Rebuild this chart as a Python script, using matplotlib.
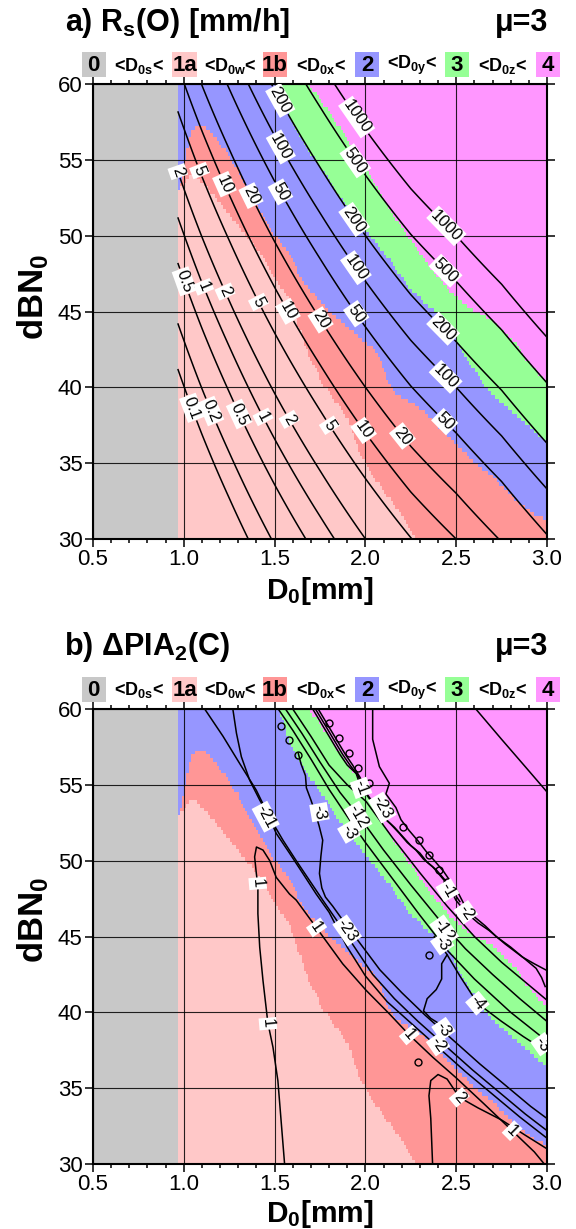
import numpy as np
import matplotlib
matplotlib.use("Agg")
import matplotlib.pyplot as plt
from matplotlib.colors import ListedColormap, BoundaryNorm
from matplotlib.path import Path
from matplotlib.patches import Rectangle
from matplotlib.ticker import MultipleLocator

plt.rcParams["font.family"] = ["Liberation Sans", "DejaVu Sans"]
plt.rcParams["mathtext.fontset"] = "custom"
plt.rcParams["mathtext.rm"] = "Liberation Sans"
plt.rcParams["mathtext.bf"] = "Liberation Sans:bold"
plt.rcParams["mathtext.it"] = "Liberation Sans:italic"
plt.rcParams["mathtext.sf"] = "Liberation Sans"

W, H = 576, 1229

# ---------------- DATA ----------------
class_labels = ["0", "1a", "1b", "2", "3", "4"]
class_colors = ["#c8c8c8", "#ffc8c8", "#ff9696", "#9696ff", "#96ff96", "#ff96ff"]
threshold_subs = ["0s", "0w", "0x", "0y", "0z"]

x_ticks = [0.5, 1.0, 1.5, 2.0, 2.5, 3.0]
y_ticks = [30, 35, 40, 45, 50, 55, 60]

D0s = 0.967

# outline of classes 1a+1b together (D0 [mm], dBN0)
cls1_D = [0.95, 0.95, 0.974, 0.988, 1.015, 1.042, 1.075, 1.10, 1.12, 1.216, 1.29, 1.363,
          1.436, 1.50, 1.582, 1.656, 1.75, 1.875, 1.97, 2.06, 2.132, 2.17, 2.315, 2.48,
          2.571, 2.718, 2.828, 2.938, 3.02, 3.02]
cls1_N = [29.9, 52.7, 52.7, 53.6, 55.4, 56.9, 57.3, 57.35, 57.2, 55.8, 54.5, 52.96,
          51.4, 50.1, 48.8, 47.0, 45.7, 44.2, 43.3, 42.4, 40.25, 39.6, 38.5, 36.5,
          35.4, 33.9, 32.6, 31.5, 31.2, 29.9]
# outline of class 1a
cls1a_D = [0.95, 0.95, 1.0, 1.04, 1.07, 1.10, 1.143, 1.216, 1.29, 1.363, 1.436, 1.51,
           1.582, 1.62, 1.656, 1.70, 1.766, 1.84, 1.912, 1.967, 2.022, 2.113, 2.205,
           2.28, 2.29]
cls1a_N = [29.9, 52.5, 53.4, 54.0, 54.0, 53.5, 52.96, 51.9, 50.8, 49.7, 48.6, 47.04,
           45.8, 44.5, 43.2, 41.8, 40.25, 39.0, 37.8, 35.6, 34.5, 33.0, 31.5, 30.0, 29.9]
# boundary D0y (class 2 / class 3)
D0y_N = [30.0, 36.5, 38.5, 40.0, 42.65, 44.0, 44.8, 45.7, 46.6, 48.4, 50.3, 52.3, 54.3,
         55.8, 57.8, 60.0]
D0y_D = [3.40, 2.99, 2.791, 2.663, 2.516, 2.47, 2.407, 2.315, 2.242, 2.132, 2.004,
         1.875, 1.765, 1.674, 1.582, 1.525]
# boundary D0z (class 3 / class 4)
D0z_N = [30.0, 40.4, 41.3, 42.9, 44.4, 45.4, 46.4, 47.7, 49.2, 50.8, 52.1, 53.6, 55.2,
         56.5, 57.8, 59.1, 60.0]
D0z_D = [3.60, 3.0, 2.919, 2.828, 2.70, 2.55, 2.462, 2.37, 2.278, 2.187, 2.113, 2.04,
         1.967, 1.894, 1.82, 1.747, 1.69]

# panel a: dBN0 at which Rs = 1 mm/h, read along D0
rain_knot_D = [0.95, 1.0, 1.1, 1.25, 1.5, 1.75, 2.0, 2.25, 2.5, 2.75, 3.0]
rain_knot_dBN1 = [51.8, 50.1, 46.9, 42.7, 36.6, 31.5, 27.0, 23.1, 20.0, 16.8, 13.3]
rain_levels = [0.1, 0.2, 0.5, 1, 2, 5, 10, 20, 50, 100, 200, 500, 1000]
rain_label_D = [1.527, 1.949, 1.527, 1.94, 0.985, 1.088, 1.225, 1.363, 1.527, 1.930,
                2.434, 1.949, 2.434, 1.005, 1.104, 1.225, 1.407, 1.564, 1.747, 1.949,
                2.418, 2.434, 2.434, 1.033, 1.143, 1.298, 1.436, 1.582, 1.802, 1.995,
                2.205]
rain_label_N = [58.9, 57.8, 55.8, 54.9, 54.6, 54.3, 53.4, 52.6, 52.85, 51.0,
                50.5, 47.9, 47.6, 47.0, 46.6, 46.3, 45.6, 44.95, 44.4, 44.85,
                43.75, 40.6, 37.7, 38.6, 38.4, 38.2, 38.05, 37.9, 37.5, 37.2,
                36.8]

# panel b: contour lines of dPIA2(C) (D0, dBN0)
pia_c1_D = [1.555, 1.518, 1.491, 1.463, 1.436, 1.418, 1.408, 1.408, 1.399, 1.390, 1.400,
            1.436, 1.473, 1.509, 1.582, 1.619, 1.729, 1.875, 2.004, 2.132, 2.242, 2.370,
            2.498, 2.650, 2.808, 2.930, 2.985]
pia_c1_N = [30.0, 35.5, 37.7, 39.3, 42.1, 44.3, 46.5, 48.3, 49.2, 50.25, 50.9,
            50.7, 50.0, 48.9, 47.8, 47.4, 45.6, 43.2, 41.45, 39.9, 38.5, 37.05,
            35.7, 34.0, 32.2, 30.8, 30.0]
pia_c2_D = [1.115, 1.216, 1.308, 1.399, 1.454, 1.509, 1.582, 1.656, 1.729, 1.80, 1.90,
            2.00, 2.12, 2.25, 2.40, 2.55, 2.70, 2.85, 3.0]
pia_c2_N = [60.0, 58.2, 56.4, 54.65, 53.3, 51.8, 50.5, 49.15, 47.8, 46.6, 44.3,
            42.4, 40.7, 39.3, 37.7, 36.1, 34.6, 33.1, 31.7]
pia_c3_D = [1.27, 1.29, 1.317, 1.363, 1.418, 1.47, 1.546, 1.619, 1.692, 1.765, 1.84,
            1.94, 2.04, 2.16, 2.29, 2.44, 2.59, 2.74, 2.88, 3.0]
pia_c3_N = [60.0, 58.4, 56.85, 55.3, 54.0, 52.9, 51.35, 50.0, 48.7, 47.4, 46.1,
            44.3, 42.5, 40.9, 39.4, 37.8, 36.2, 34.7, 33.3, 32.2]
pia_c4_D = [1.63, 1.645, 1.67, 1.675, 1.70, 1.72, 1.745, 1.765, 1.755, 1.747, 1.76,
            1.78, 1.82, 1.88, 1.98, 2.08, 2.20, 2.33, 2.48, 2.63, 2.78, 2.91, 3.0]
pia_c4_N = [57.1, 56.4, 55.6, 54.8, 54.0, 53.3, 52.3, 51.35, 50.3, 49.15, 48.2,
            47.6, 47.0, 46.0, 44.4, 42.8, 41.3, 39.8, 38.2, 36.6, 35.1, 33.8, 33.0]
pia_c5_D = [2.45, 2.42, 2.42, 2.39, 2.34, 2.32, 2.36, 2.40]
pia_c5_N = [43.8, 43.2, 42.2, 41.5, 40.9, 40.1, 39.6, 39.3]
pia_c6_D = [2.37, 2.365, 2.36, 2.35, 2.36, 2.40, 2.45, 2.517, 2.62, 2.75, 2.88, 3.0]
pia_c6_N = [30.0, 31.5, 33.0, 34.5, 35.5, 35.9, 35.6, 34.4, 33.7, 32.9, 31.9, 31.0]
pia_g1_D = [1.52, 1.60, 1.70, 1.80, 1.912, 2.00, 2.15, 2.30, 2.45, 2.60, 2.80, 3.0]
pia_g1_N = [60.0, 58.6, 56.7, 54.7, 52.7, 51.2, 48.8, 46.4, 44.1, 42.2, 40.0, 38.1]
pia_g2_D = [1.56, 1.65, 1.75, 1.86, 1.967, 2.10, 2.25, 2.40, 2.55, 2.70, 2.85, 3.0]
pia_g2_N = [60.0, 58.4, 56.5, 54.5, 52.9, 50.7, 48.4, 46.2, 44.2, 42.5, 40.9, 39.4]
pia_g3_D = [1.60, 1.70, 1.80, 1.90, 2.004, 2.15, 2.30, 2.45, 2.60, 2.75, 2.88, 3.0]
pia_g3_N = [60.0, 58.2, 56.3, 55.0, 53.9, 51.5, 49.2, 47.0, 45.0, 43.3, 42.0, 40.8]
pia_g4_D = [2.38, 2.45, 2.52, 2.617, 2.75, 2.87, 3.0]
pia_g4_N = [45.0, 43.8, 42.4, 40.6, 39.4, 38.4, 37.4]
pia_m1_D = [1.71, 1.76, 1.81, 1.86, 1.90, 1.949, 1.976, 2.004, 2.05, 2.095, 2.14, 2.187,
            2.23, 2.278, 2.32, 2.37, 2.42, 2.462, 2.498, 2.553, 2.62, 2.681, 2.77, 2.864,
            2.93, 2.993]
pia_m1_N = [60.0, 59.0, 58.0, 57.0, 56.3, 55.75, 54.8, 54.4, 53.6, 52.9, 52.4, 51.8,
            51.2, 50.7, 50.1, 49.6, 48.9, 48.3, 47.4, 46.6, 45.9, 45.4, 44.5, 43.65,
            43.2, 42.8]
pia_m2_D = [1.725, 1.775, 1.825, 1.875, 1.915, 1.96, 1.985, 2.02, 2.07, 2.115, 2.16,
            2.205, 2.25, 2.30, 2.34, 2.39, 2.44, 2.48, 2.52]
pia_m2_N = [60.0, 59.0, 58.0, 57.0, 56.3, 55.6, 54.8, 54.2, 53.4, 52.7, 52.2, 51.6,
            51.0, 50.5, 49.9, 49.4, 48.7, 48.0, 47.3]
pia_m3_D = [1.74, 1.79, 1.84, 1.89, 1.93, 1.97, 1.995]
pia_m3_N = [60.0, 59.0, 58.0, 57.0, 56.3, 55.5, 54.9]
pia_p1_D = [2.04, 2.04, 2.077, 2.132, 2.113, 2.168, 2.196, 2.24, 2.29, 2.335, 2.38, 2.43,
            2.47, 2.51, 2.553, 2.60, 2.66, 2.72, 2.80, 2.87, 2.94, 2.97, 2.99]
pia_p1_N = [60.0, 58.0, 56.2, 55.1, 54.4, 53.5, 52.7, 52.0, 51.3, 50.6, 50.0, 49.3,
            48.6, 47.9, 46.9, 46.3, 45.7, 45.0, 44.3, 43.6, 42.9, 42.3, 41.7]
pia_p2_D = [2.608, 2.75, 2.88, 2.995]
pia_p2_N = [60.0, 58.0, 56.2, 54.6]
pia_loop_D = [1.537, 1.582, 1.628, 1.802, 1.857, 1.912, 1.958, 2.022, 2.205, 2.297,
              2.352, 2.407, 2.45, 2.352, 2.288]
pia_loop_N = [58.9, 57.95, 56.96, 59.05, 58.1, 57.1, 56.1, 55.1, 52.2, 51.35,
              50.4, 49.4, 48.6, 43.8, 36.7]
pia_label_text = ["-21", "-3", "-1", "-23", "-12", "-3", "1", "1", "-23", "-1", "-2",
                  "-12", "-3", "-4", "-3", "1", "1", "-3", "-2", "2", "1"]
pia_label_D = [1.451, 1.747, 1.976, 2.093, 1.96, 1.91, 1.407, 1.731, 1.90, 2.452, 2.553,
               2.434, 2.423, 2.617, 2.975, 1.463, 2.242, 2.43, 2.40, 2.517, 2.808]
pia_label_N = [52.9, 53.2, 54.8, 53.5, 52.9, 51.9, 48.5, 45.6, 45.4, 48.05, 46.6,
               45.4, 44.55, 40.6, 37.9, 39.25, 38.5, 38.9, 37.9, 34.4, 32.2]
pia_label_rot = [-62, -80, -70, -60, -60, -60, -85, -55, -55, -60, -55,
                 -55, -55, -50, -55, -85, -50, -55, -55, -50, -45]

# ---------------- FIGURE ----------------
fig = plt.figure(figsize=(W / 100, H / 100), dpi=100)

ax_a = fig.add_axes([93 / W, 1 - 539 / H, 454 / W, 455 / H])
ax_b = fig.add_axes([93 / W, 1 - 1164 / H, 454 / W, 455 / H])

# class map on a grid
De = np.concatenate([np.linspace(0.5, D0s, 30), np.linspace(D0s, 3.0, 171)[1:]])
Ne = np.linspace(30, 60, 121)
Dc = 0.5 * (De[1:] + De[:-1])
Nc = 0.5 * (Ne[1:] + Ne[:-1])
DD, NN = np.meshgrid(Dc, Nc)
pts = np.column_stack([DD.ravel(), NN.ravel()])
cls = np.full(DD.shape, 5)
cls[DD < np.interp(NN, D0z_N, D0z_D)] = 4
cls[DD < np.interp(NN, D0y_N, D0y_D)] = 3
cls[Path(np.column_stack([cls1_D, cls1_N])).contains_points(pts).reshape(DD.shape)] = 2
cls[Path(np.column_stack([cls1a_D, cls1a_N])).contains_points(pts).reshape(DD.shape)] = 1
cls[DD < D0s] = 0
cmap = ListedColormap(class_colors)
norm = BoundaryNorm(np.arange(-0.5, 6.5, 1), 6)

lab_bbox = dict(boxstyle="square,pad=0.08", fc="white", ec="none")


def style_axes(ax):
    ax.pcolormesh(De, Ne, cls, cmap=cmap, norm=norm, shading="flat", zorder=0)
    ax.set_xlim(0.5, 3.0)
    ax.set_ylim(30, 60)
    ax.set_xticks(x_ticks)
    ax.set_xticklabels([f"{v:.1f}" for v in x_ticks])
    ax.set_yticks(y_ticks)
    ax.set_yticklabels([str(v) for v in y_ticks])
    ax.xaxis.set_minor_locator(MultipleLocator(0.1))
    ax.tick_params(which="both", direction="out", top=True, right=True,
                   labelsize=16, width=1.1, pad=1.5)
    ax.tick_params(which="major", length=6)
    ax.tick_params(which="minor", length=3)
    ax.grid(True, which="major", color="k", lw=0.8, alpha=0.85)
    for s in ax.spines.values():
        s.set_linewidth(1.5)


style_axes(ax_a)
style_axes(ax_b)

# panel a: rain-rate contours
Dr = np.linspace(D0s, 3.0, 400)
Nr = np.linspace(30, 60, 300)
DR, NR = np.meshgrid(Dr, Nr)
R = 10 ** ((NR - np.interp(np.log(DR), np.log(rain_knot_D), rain_knot_dBN1)) / 10)
cs = ax_a.contour(Dr, Nr, R, levels=rain_levels, colors="k", linewidths=1.1, zorder=3)
labs = ax_a.clabel(cs, manual=list(zip(rain_label_D, rain_label_N)),
                   fmt=lambda v: f"{v:g}", fontsize=12, inline=True, inline_spacing=2)
for t in labs:
    t.set_bbox(lab_bbox)
    t.set_zorder(5)

# panel b: dPIA contours
pia_lines = [(pia_c1_D, pia_c1_N), (pia_c2_D, pia_c2_N), (pia_c3_D, pia_c3_N),
             (pia_c4_D, pia_c4_N), (pia_c5_D, pia_c5_N), (pia_c6_D, pia_c6_N),
             (pia_g1_D, pia_g1_N), (pia_g2_D, pia_g2_N), (pia_g3_D, pia_g3_N),
             (pia_g4_D, pia_g4_N), (pia_m1_D, pia_m1_N), (pia_m2_D, pia_m2_N),
             (pia_m3_D, pia_m3_N), (pia_p1_D, pia_p1_N), (pia_p2_D, pia_p2_N)]
for xs, ys in pia_lines:
    ax_b.plot(xs, ys, color="k", lw=1.1, zorder=3)
ax_b.plot(pia_loop_D, pia_loop_N, "o", mfc="none", mec="k", ms=5, mew=1.0, zorder=3)
for txt, xd, yd, rot in zip(pia_label_text, pia_label_D, pia_label_N, pia_label_rot):
    ax_b.text(xd, yd, txt, rotation=rot, ha="center", va="center", fontsize=12,
              bbox=lab_bbox, zorder=5, rotation_mode="anchor", clip_on=True)

# titles, legend rows, axis labels
box_px = [(81.6, 105.9), (172, 197), (263, 287), (355, 379), (445, 469), (536, 560)]


def legend_row(top_px):
    h = 25
    for (x0, x1), lab, col in zip(box_px, class_labels, class_colors):
        fig.patches.append(Rectangle((x0 / W, 1 - (top_px + h) / H), (x1 - x0) / W, h / H,
                                     transform=fig.transFigure, fc=col, ec="none"))
        fig.text((x0 + x1) / 2 / W, 1 - (top_px + h / 2 + 1) / H, lab, ha="center",
                 va="center", fontsize=16, fontweight="bold")
    for i, sub in enumerate(threshold_subs):
        xc = (box_px[i][1] + box_px[i + 1][0]) / 2
        fig.text(xc / W, 1 - (top_px + h / 2 + 1) / H, r"<$\mathbf{D_{%s}}$<" % sub,
                 ha="center", va="center", fontsize=13, fontweight="bold")


legend_row(52)
legend_row(677)

fig.text(65 / W, 1 - 31 / H, r"a) $\mathbf{R_s}$(O) [mm/h]", fontsize=22,
         fontweight="bold", va="baseline")
fig.text(548 / W, 1 - 31 / H, "μ=3", fontsize=22, fontweight="bold", va="baseline",
         ha="right")
fig.text(64 / W, 1 - 655 / H, r"b) ΔPIA$_{\mathbf{2}}$(C)", fontsize=22,
         fontweight="bold", va="baseline")
fig.text(548 / W, 1 - 655 / H, "μ=3", fontsize=22, fontweight="bold", va="baseline",
         ha="right")

for base in (599, 1222):
    fig.text(320 / W, 1 - base / H, r"$\mathbf{D_0[mm]}$", fontsize=21.5, ha="center",
             va="baseline")
for yc in (297, 920):
    fig.text(33 / W, 1 - yc / H, r"$\mathbf{dBN_0}$", fontsize=25, ha="center",
             va="center", rotation=90)

fig.savefig("out.png", dpi=100)
